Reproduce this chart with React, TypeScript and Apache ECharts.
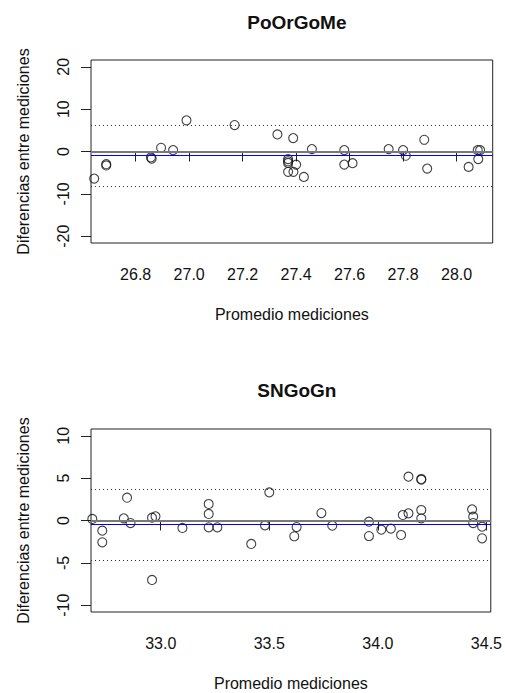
import React, { useEffect, useRef } from "react";
import * as echarts from "echarts";

// ---- PoOrGoMe data ----
const poX = [26.645, 26.69, 26.69, 26.857, 26.86, 26.895, 26.94, 26.99, 27.17, 27.33, 27.389,
  27.37, 27.37, 27.37, 27.37, 27.39, 27.40, 27.429, 27.459, 27.58, 27.58, 27.611, 27.746,
  27.80, 27.81, 27.879, 27.89, 28.045, 28.079, 28.088, 28.081];
const poY = [-6.4, -3.0, -3.3, -1.4, -1.7, 0.88, 0.33, 7.35, 6.25, 4.03, 3.17,
  -1.8, -2.3, -2.7, -4.8, -4.8, -3.1, -6.0, 0.57, 0.33, -3.08, -2.75, 0.57,
  0.33, -1.0, 2.77, -4.03, -3.63, 0.33, 0.33, -1.8];
const poMean = -0.95;
const poUpper = 6.1;
const poLower = -8.13;
const poXTicks = [26.8, 27.0, 27.2, 27.4, 27.6, 27.8, 28.0];
const poYTicks = [-20, -10, 0, 10, 20];
const poXRange = [26.633, 28.135];
const poYRange = [-21.6, 21.6];

// ---- SNGoGn data ----
const snX = [32.685, 32.731, 32.731, 32.83, 32.845, 32.861, 32.96, 32.976, 32.96, 33.1,
  33.221, 33.221, 33.221, 33.261, 33.417, 33.48, 33.5, 33.615, 33.626, 33.74, 33.79,
  33.959, 33.959, 34.016, 34.06, 34.107, 34.115, 34.141, 34.141, 34.2, 34.2, 34.2, 34.2,
  34.434, 34.439, 34.439, 34.48, 34.48];
const snY = [0.18, -1.2, -2.57, 0.26, 2.69, -0.3, 0.33, 0.49, -7.02, -0.88,
  1.95, 0.77, -0.8, -0.8, -2.77, -0.57, 3.32, -1.86, -0.77, 0.88, -0.61,
  -0.14, -1.83, -1.08, -0.96, -1.71, 0.65, 0.85, 5.17, 4.9, 4.82, 1.24, 0.26,
  1.32, 0.45, -0.3, -0.73, -2.1];
const snMean = -0.47;
const snUpper = 3.71;
const snLower = -4.65;
const snXTicks = [33.0, 33.5, 34.0, 34.5];
const snYTicks = [-10, -5, 0, 5, 10];
const snXRange = [32.679, 34.52];
const snYRange = [-10.8, 10.8];

const titles = ["PoOrGoMe", "SNGoGn"];
const xName = "Promedio mediciones";
const yName = "Diferencias entre mediciones";

const FONT = "Liberation Sans, Arial, sans-serif";

function xAxisCfg(gi: number, range: number[], ticks: number[]) {
  return {
    type: "value",
    gridIndex: gi,
    min: range[0],
    max: range[1],
    splitLine: { show: false },
    axisLine: { show: false },
    axisTick: { show: true, inside: false, length: 10, customValues: ticks, lineStyle: { color: "#222", width: 1 } },
    axisLabel: {
      show: true,
      customValues: ticks,
      margin: 23,
      fontSize: 16,
      fontFamily: FONT,
      color: "#111",
      formatter: (v: number) => v.toFixed(1),
    },
    name: xName,
    nameLocation: "middle",
    nameGap: 63,
    nameTextStyle: { fontSize: 16, fontFamily: FONT, color: "#111" },
  };
}

function yAxisCfg(gi: number, range: number[], ticks: number[]) {
  return {
    type: "value",
    gridIndex: gi,
    min: range[0],
    max: range[1],
    splitLine: { show: false },
    axisLine: { show: false },
    axisTick: { show: true, inside: false, length: 10, customValues: ticks, lineStyle: { color: "#222", width: 1 } },
    axisLabel: {
      show: true,
      customValues: ticks,
      rotate: 90,
      margin: 20,
      fontSize: 16,
      fontFamily: FONT,
      color: "#111",
      formatter: (v: number) => String(v),
    },
    name: yName,
    nameLocation: "middle",
    nameGap: 60,
    nameTextStyle: { fontSize: 16, fontFamily: FONT, color: "#111" },
  };
}

function seriesCfg(gi: number, xs: number[], ys: number[], mean: number, upper: number, lower: number) {
  return {
    type: "scatter",
    xAxisIndex: gi,
    yAxisIndex: gi,
    data: xs.map((x, i) => [x, ys[i]]),
    symbol: "circle",
    symbolSize: 9,
    itemStyle: { color: "rgba(0,0,0,0)", borderColor: "#111", borderWidth: 1.1 },
    emphasis: { disabled: true },
    markLine: {
      silent: true,
      symbol: "none",
      label: { show: false },
      animation: false,
      data: [
        { yAxis: 0, lineStyle: { color: "#7a7a7a", width: 2, type: "solid" } },
        { yAxis: mean, lineStyle: { color: "#0000ff", width: 1, type: "solid" } },
        { yAxis: upper, lineStyle: { color: "#333", width: 1, type: [1, 3] } },
        { yAxis: lower, lineStyle: { color: "#333", width: 1, type: [1, 3] } },
      ],
    },
  };
}

export default function App() {
  const ref = useRef<HTMLDivElement>(null);
  useEffect(() => {
    if (!ref.current) return;
    const chart = echarts.init(ref.current, undefined, { renderer: "svg" });
    const gridLeft = 91;
    const gridW = 401.7;
    const cx = gridLeft + gridW / 2;
    chart.setOption({
      animation: false,
      backgroundColor: "#fff",
      title: [
        {
          text: titles[0],
          left: cx,
          top: 8,
          textAlign: "center",
          textStyle: { fontSize: 19, fontWeight: "bold", fontFamily: FONT, color: "#111" },
        },
        {
          text: titles[1],
          left: cx,
          top: 376,
          textAlign: "center",
          textStyle: { fontSize: 19, fontWeight: "bold", fontFamily: FONT, color: "#111" },
        },
      ],
      grid: [
        { left: gridLeft, top: 60, width: gridW, height: 183, show: true, borderColor: "#222", borderWidth: 1, backgroundColor: "transparent" },
        { left: gridLeft, top: 429, width: gridW, height: 183, show: true, borderColor: "#222", borderWidth: 1, backgroundColor: "transparent" },
      ],
      xAxis: [xAxisCfg(0, poXRange, poXTicks), xAxisCfg(1, snXRange, snXTicks)],
      yAxis: [yAxisCfg(0, poYRange, poYTicks), yAxisCfg(1, snYRange, snYTicks)],
      series: [
        seriesCfg(0, poX, poY, poMean, poUpper, poLower),
        seriesCfg(1, snX, snY, snMean, snUpper, snLower),
      ],
    });
    return () => chart.dispose();
  }, []);
  return (
    <div
      ref={ref}
      style={{ position: "fixed", left: 0, top: 0, width: 505, height: 693, background: "#fff" }}
    />
  );
}
